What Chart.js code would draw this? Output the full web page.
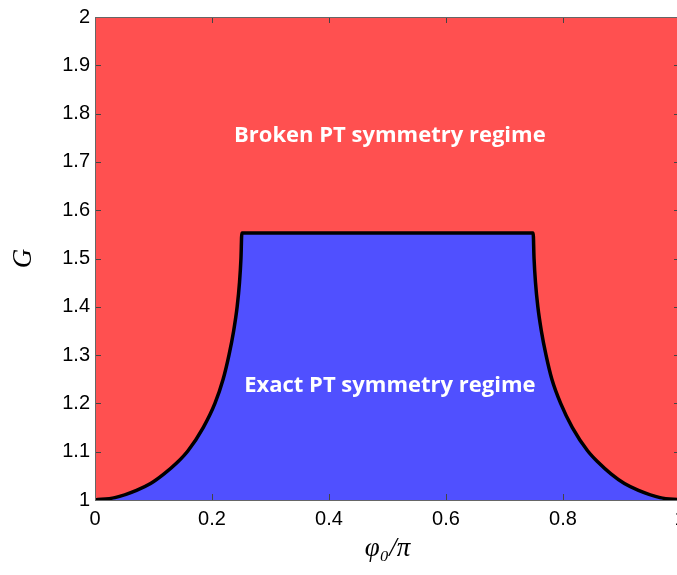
<!DOCTYPE html>
<html>
<head>
<meta charset="utf-8">
<script src="https://cdn.jsdelivr.net/npm/chart.js@4.4.0/dist/chart.umd.min.js"></script>
<style>
html, body { margin: 0; padding: 0; overflow: hidden; background: #fff; }
</style>
</head>
<body>
<canvas id="myChart" width="700" height="575"></canvas>
<script>
// boundary of the exact PT region
let leftPhi = [0, 0.034, 0.071, 0.095, 0.118, 0.14, 0.159, 0.185, 0.205, 0.219, 0.229, 0.237, 0.243, 0.247, 0.2495, 0.251];
let leftG = [1, 1.005, 1.02, 1.034, 1.054, 1.077, 1.102, 1.15, 1.2, 1.25, 1.3, 1.35, 1.4, 1.45, 1.5, 1.553];
let rightPhi = [0.749, 0.7505, 0.753, 0.757, 0.763, 0.771, 0.781, 0.796, 0.816, 0.842, 0.861, 0.882, 0.905, 0.929, 0.966, 1];
let rightG = [1.553, 1.5, 1.45, 1.4, 1.35, 1.3, 1.25, 1.2, 1.15, 1.102, 1.077, 1.054, 1.034, 1.02, 1.005, 1];

let labelTexts = ['Broken PT symmetry regime', 'Exact PT symmetry regime'];
let labelPhi = [0.504, 0.504];
let labelG = [1.754, 1.236];

let boundary = [];
leftPhi.forEach((p, i) => boundary.push({x: p, y: leftG[i]}));
rightPhi.forEach((p, i) => boundary.push({x: p, y: rightG[i]}));

const regimeLabels = {
    id: 'regimeLabels',
    afterDatasetsDraw(chart) {
        const {ctx, scales: {x, y}} = chart;
        ctx.save();
        ctx.fillStyle = '#fff';
        ctx.font = 'bold 22px "Open Sans"';
        ctx.textAlign = 'center';
        ctx.textBaseline = 'middle';
        labelTexts.forEach((t, i) => {
            ctx.fillText(t, x.getPixelForValue(labelPhi[i]), y.getPixelForValue(labelG[i]));
        });
        ctx.restore();
    }
};

// matlab style box with inward ticks
const boxTicks = {
    id: 'boxTicks',
    afterDraw(chart) {
        const {ctx, chartArea: a, scales: {x, y}} = chart;
        ctx.save();
        ctx.strokeStyle = '#444';
        ctx.lineWidth = 1;
        ctx.beginPath();
        x.ticks.forEach(t => {
            let px = Math.round(x.getPixelForValue(t.value)) + 0.5;
            ctx.moveTo(px, a.bottom); ctx.lineTo(px, a.bottom - 6);
            ctx.moveTo(px, a.top); ctx.lineTo(px, a.top + 6);
        });
        y.ticks.forEach(t => {
            let py = Math.round(y.getPixelForValue(t.value)) + 0.5;
            ctx.moveTo(a.left, py); ctx.lineTo(a.left + 6, py);
            ctx.moveTo(a.right, py); ctx.lineTo(a.right - 6, py);
        });
        ctx.stroke();
        ctx.strokeStyle = '#666';
        ctx.strokeRect(a.left + 0.5, a.top + 0.5, a.right - a.left, a.bottom - a.top);
        ctx.restore();
    }
};

let myChart = document.getElementById('myChart').getContext('2d');
let regimeChart = new Chart(myChart, {
    type: 'line',
    data: {
        datasets: [{
            data: boundary,
            fill: 'start',
            backgroundColor: '#5050ff',
            borderColor: '#000',
            borderWidth: 3.5,
            pointRadius: 0,
            cubicInterpolationMode: 'monotone',
            order: 1
        }, {
            data: boundary,
            fill: 'end',
            backgroundColor: '#ff5050',
            borderWidth: 0,
            pointRadius: 0,
            cubicInterpolationMode: 'monotone',
            order: 2
        }]
    },
    options: {
        responsive: false,
        animation: false,
        layout: { padding: { top: 16, right: 20, left: 0, bottom: 0 } },
        plugins: { legend: { display: false }, tooltip: { enabled: false } },
        scales: {
            x: {
                type: 'linear',
                min: 0, max: 1,
                grid: { display: false, drawTicks: false },
                border: { display: false },
                ticks: {
                    stepSize: 0.2,
                    padding: 7,
                    color: '#000',
                    font: { family: '"Liberation Sans", Arial', size: 20 },
                    callback: v => +v.toFixed(1)
                },
                title: {
                    display: true,
                    text: 'φ₀/π',
                    color: '#000',
                    font: { family: '"Liberation Serif", "DejaVu Serif"', size: 27, style: 'italic' },
                    padding: { top: 0, bottom: 10 }
                },
                afterFit: s => { s.height = 75; }
            },
            y: {
                min: 1, max: 2,
                grid: { display: false, drawTicks: false },
                border: { display: false },
                ticks: {
                    stepSize: 0.1,
                    padding: 5,
                    color: '#000',
                    font: { family: '"Liberation Sans", Arial', size: 20 },
                    callback: v => +v.toFixed(1)
                },
                title: {
                    display: true,
                    text: 'G',
                    color: '#000',
                    font: { family: '"Liberation Serif", "DejaVu Serif"', size: 27, style: 'italic' },
                    padding: { top: 8, bottom: 0 }
                },
                afterFit: s => { s.width = 95; }
            }
        }
    },
    plugins: [regimeLabels, boxTicks]
});
</script>
</body>
</html>
